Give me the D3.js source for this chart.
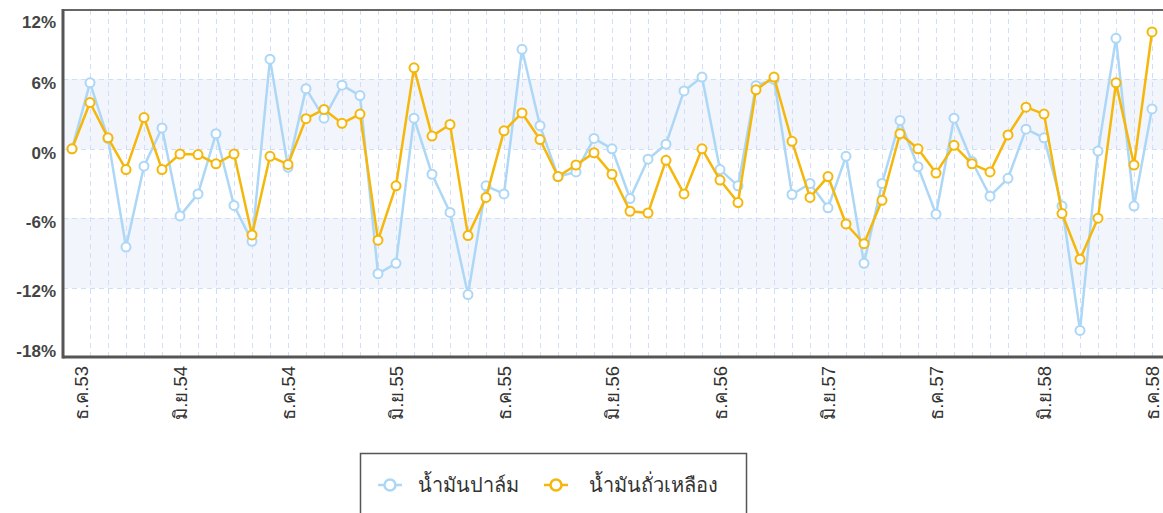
<!DOCTYPE html>
<html>
<head>
<meta charset="utf-8">
<script src="https://cdn.jsdelivr.net/npm/d3@7"></script>
<style>
  body { margin: 0; background: #fff; }
  svg { display: block; font-family: "Noto Sans", "DejaVu Sans", sans-serif; }
</style>
</head>
<body>
<svg width="1163" height="513"></svg>
<script>
// month names (Thai abbreviations) and years covered, Dec 53 .. Dec 58
var monthNames = ["ม.ค.", "ก.พ.", "มี.ค.", "เม.ย.", "พ.ค.", "มิ.ย.", "ก.ค.", "ส.ค.", "ก.ย.", "ต.ค.", "พ.ย.", "ธ.ค."];
var tickLabels = ["ธ.ค.53", "มิ.ย.54", "ธ.ค.54", "มิ.ย.55", "ธ.ค.55", "มิ.ย.56", "ธ.ค.56", "มิ.ย.57", "ธ.ค.57", "มิ.ย.58", "ธ.ค.58"];
var yTicks = [12, 6, 0, -6, -12, -18];
var seriesNames = ["น้ำมันปาล์ม", "น้ำมันถั่วเหลือง"];

// % change per month
var palmOil = [0.0, 5.7, 0.9, -8.5, -1.5, 1.8, -5.8, -3.9, 1.3, -4.9,
  -8.0, 7.75, -1.6, 5.2, 2.65, 5.5, 4.6, -10.8, -9.9, 2.65,
  -2.2, -5.5, -12.6, -3.2, -3.9, 8.6, 2.0, -2.4, -2.0, 0.9,
  0.0, -4.3, -0.9, 0.4, 5.0, 6.2, -1.8, -3.2, 5.45, 6.0,
  -3.95, -3.0, -5.1, -0.65, -9.9, -3.0, 2.45, -1.55, -5.65, 2.65,
  -1.1, -4.1, -2.55, 1.7, 0.95, -4.95, -15.7, -0.2, 9.55, -4.95,
  3.45];
var soybeanOil = [0.0, 4.0, 0.95, -1.8, 2.7, -1.8, -0.45, -0.5, -1.3, -0.45,
  -7.45, -0.65, -1.35, 2.6, 3.4, 2.2, 3.0, -7.9, -3.2, 7.0,
  1.1, 2.1, -7.5, -4.2, 1.55, 3.1, 0.8, -2.4, -1.4, -0.35,
  -2.2, -5.4, -5.55, -1.0, -3.9, 0.0, -2.7, -4.65, 5.1, 6.2,
  0.65, -4.2, -2.4, -6.5, -8.2, -4.45, 1.3, 0.0, -2.1, 0.3,
  -1.3, -2.0, 1.2, 3.6, 3.0, -5.6, -9.55, -6.0, 5.7, -1.4,
  10.1];

var categories = [];
categories.push(monthNames[11] + "53");
for (var yr = 54; yr <= 58; yr++) {
  monthNames.forEach(function(m) { categories.push(m + yr); });
}

var colors = ["#acd7f6", "#f5b70a"];

var svg = d3.select("svg");
var plotTop = 10, plotBottom = 357, plotLeft = 63, plotRight = 1163;

var x = d3.scalePoint().domain(categories).range([72, 1152]);
var y = d3.scaleLinear().domain([-18, 12]).range([plotBottom, plotTop]);

function crisp(v) { return Math.round(v) + 0.5; }

// shaded bands
[[0, 6], [-12, -6]].forEach(function(b) {
  svg.append("rect")
    .attr("x", plotLeft).attr("width", plotRight - plotLeft)
    .attr("y", Math.round(y(b[1]))).attr("height", Math.round(y(b[0])) - Math.round(y(b[1])))
    .attr("fill", "#f3f5fc");
});

// horizontal grid
svg.append("g")
  .selectAll("line")
  .data([6, 0, -6, -12])
  .enter().append("line")
  .attr("x1", plotLeft).attr("x2", plotRight)
  .attr("y1", function(d) { return crisp(y(d)); })
  .attr("y2", function(d) { return crisp(y(d)); })
  .attr("stroke", "#d0defa")
  .attr("stroke-width", 1)
  .attr("stroke-dasharray", "5,4");

// vertical grid
svg.append("g")
  .selectAll("line")
  .data(categories.slice(1))
  .enter().append("line")
  .attr("x1", function(d) { return crisp(x(d)); })
  .attr("x2", function(d) { return crisp(x(d)); })
  .attr("y1", plotTop).attr("y2", plotBottom)
  .attr("stroke", "#d0defa")
  .attr("stroke-width", 1)
  .attr("stroke-dasharray", "5,4");

// frame
svg.append("line").attr("x1", plotLeft).attr("x2", plotRight)
  .attr("y1", plotTop).attr("y2", plotTop)
  .attr("stroke", "#666").attr("stroke-width", 2);

// y axis (end labels are kept inside the plot height)
var yAxis = d3.axisLeft(y).tickValues(yTicks).tickSize(0).tickPadding(7)
  .tickFormat(function(d) { return d + "%"; });
var gy = svg.append("g").attr("transform", "translate(" + plotLeft + ",0)").call(yAxis);
gy.select(".domain").remove();
gy.selectAll("text")
  .attr("dy", function(d) { return d == 12 ? "1.05em" : d == -18 ? "-0.05em" : "0.55em"; })
  .attr("fill", "#444")
  .style("font-size", "17px")
  .style("font-weight", "bold");

svg.append("line").attr("x1", plotLeft).attr("x2", plotLeft)
  .attr("y1", plotTop - 1).attr("y2", plotBottom + 1.5)
  .attr("stroke", "#555").attr("stroke-width", 3);

// x axis
var labelSet = {};
tickLabels.forEach(function(t) { labelSet[t] = true; });
var xAxis = d3.axisBottom(x)
  .tickValues(categories.filter(function(c) { return labelSet[c]; }))
  .tickSize(0);
var gx = svg.append("g").attr("transform", "translate(0," + plotBottom + ")").call(xAxis);
gx.select(".domain").remove();
gx.selectAll("text")
  .attr("transform", function(d, i) { return "rotate(-90)" + (i == 0 ? " translate(0,9)" : ""); })
  .attr("x", -9).attr("y", 0).attr("dy", "0.35em")
  .style("text-anchor", "end")
  .style("font-size", "18.5px")
  .attr("fill", "#333");

svg.append("line").attr("x1", plotLeft).attr("x2", plotRight)
  .attr("y1", plotBottom).attr("y2", plotBottom)
  .attr("stroke", "#555").attr("stroke-width", 3);

// series
var series = [palmOil, soybeanOil];
var line = d3.line()
  .x(function(d, i) { return x(categories[i]); })
  .y(function(d) { return y(d); });

series.forEach(function(vals, s) {
  var g = svg.append("g");
  g.append("path")
    .datum(vals)
    .attr("d", line)
    .attr("fill", "none")
    .attr("stroke", colors[s])
    .attr("stroke-width", 2.5)
    .attr("stroke-linejoin", "round");
  g.selectAll("circle")
    .data(vals)
    .enter().append("circle")
    .attr("cx", function(d, i) { return x(categories[i]); })
    .attr("cy", function(d) { return y(d); })
    .attr("r", 4.5)
    .attr("fill", "#fff")
    .attr("stroke", colors[s])
    .attr("stroke-width", 2);
});

// legend
var legend = svg.append("g");
legend.append("rect")
  .attr("x", 360.5).attr("y", 453.5).attr("width", 386).attr("height", 62)
  .attr("fill", "#fff").attr("stroke", "#555").attr("stroke-width", 1.5);
var legX = [390, 556], legTextX = [418, 589];
seriesNames.forEach(function(name, s) {
  var it = legend.append("g");
  it.append("line")
    .attr("x1", legX[s] - 12).attr("x2", legX[s] + 12)
    .attr("y1", 485).attr("y2", 485)
    .attr("stroke", colors[s]).attr("stroke-width", 2.5);
  it.append("circle")
    .attr("cx", legX[s]).attr("cy", 485).attr("r", 5.5)
    .attr("fill", "#fff").attr("stroke", colors[s]).attr("stroke-width", 2.5);
  it.append("text")
    .attr("x", legTextX[s]).attr("y", 485).attr("dy", "0.35em")
    .style("font-size", "20px")
    .attr("fill", "#333")
    .text(name);
});
</script>
</body>
</html>
